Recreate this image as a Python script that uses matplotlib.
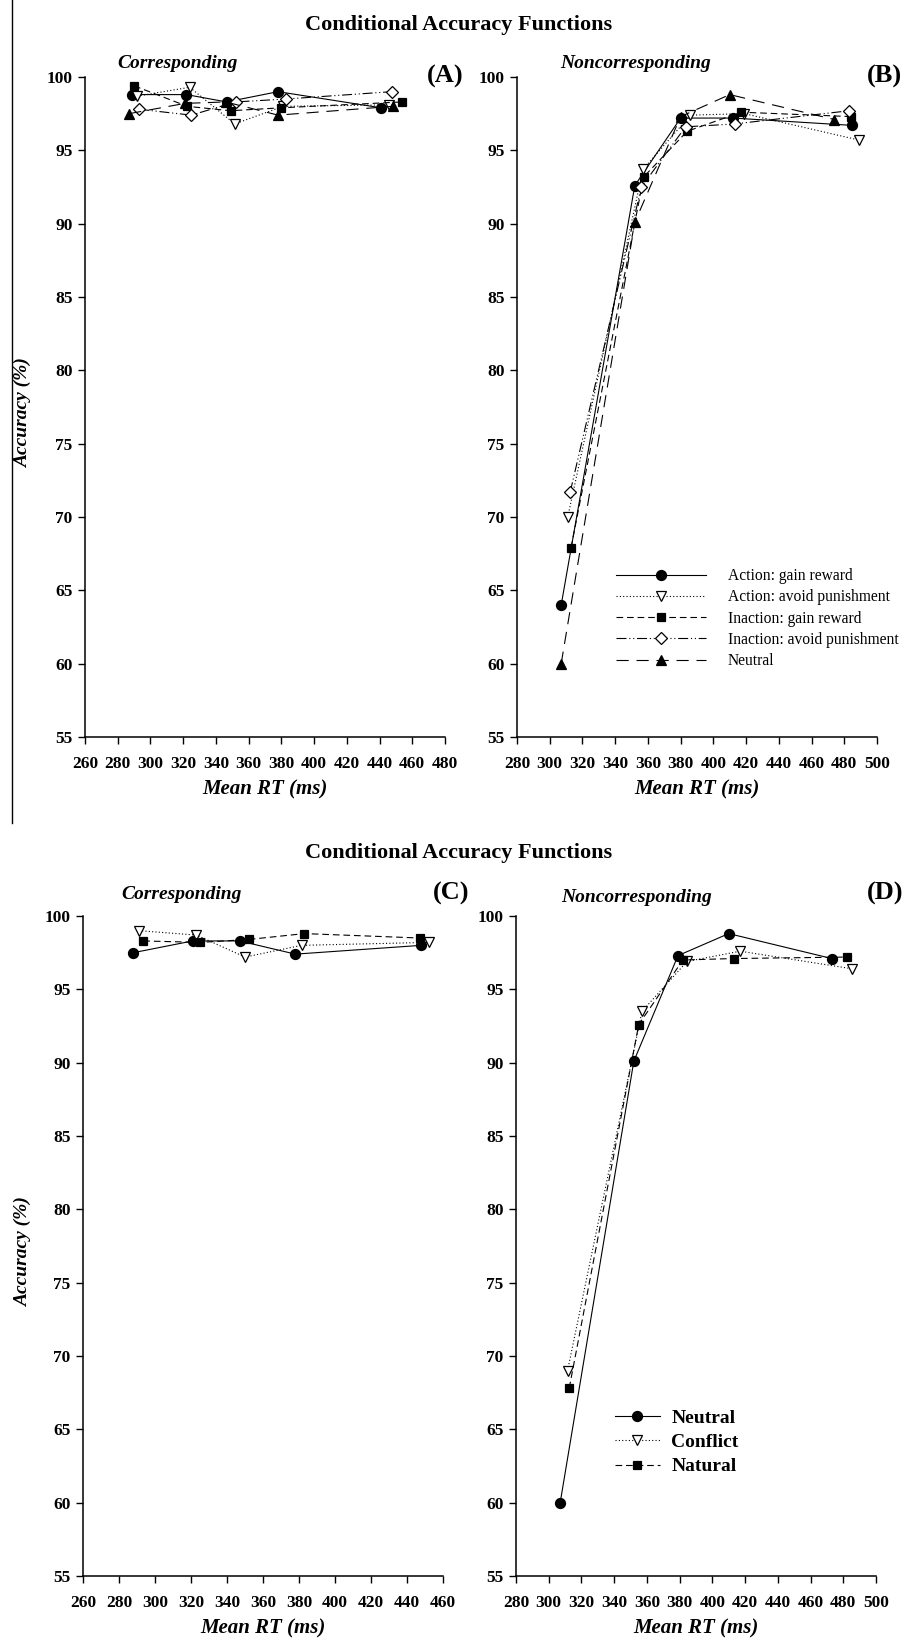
import matplotlib
matplotlib.use("Agg")
import matplotlib.pyplot as plt
from matplotlib.lines import Line2D

plt.rcParams["font.family"] = ["Liberation Serif", "DejaVu Serif"]

# --- Data ---
# Panel A: corresponding trials
a_gain_rt = [288.5, 322, 346.5, 378, 441]
a_gain_acc = [98.8, 98.8, 98.3, 99.0, 97.9]
a_avoid_rt = [292, 324, 351.5, 381, 446]
a_avoid_acc = [98.7, 99.3, 96.8, 98.0, 98.1]
i_gain_rt = [290, 322.5, 349, 380, 454]
i_gain_acc = [99.4, 98.0, 97.7, 97.9, 98.3]
i_avoid_rt = [293, 325, 352, 383, 447.5]
i_avoid_acc = [97.8, 97.4, 98.3, 98.5, 99.0]
a_neutral_rt = [287, 321, 346, 378, 448]
a_neutral_acc = [97.5, 98.2, 98.3, 97.4, 98.0]

# Panel B: noncorresponding trials
b_gain_rt = [307, 352, 380, 412, 485]
b_gain_acc = [64.0, 92.6, 97.2, 97.2, 96.7]
b_avoid_rt = [311, 357, 386, 419, 489]
b_avoid_acc = [70.0, 93.7, 97.4, 97.5, 95.7]
bi_gain_rt = [313, 357.5, 384, 417, 484]
bi_gain_acc = [67.9, 93.2, 96.3, 97.6, 97.3]
bi_avoid_rt = [312.5, 356, 383, 413, 483]
bi_avoid_acc = [71.7, 92.5, 96.6, 96.8, 97.7]
b_neutral_rt = [307, 352, 380, 410, 474]
b_neutral_acc = [60.0, 90.1, 97.3, 98.8, 97.1]

# Panel C: corresponding trials
c_neutral_rt = [288, 321, 347, 378, 448]
c_neutral_acc = [97.5, 98.3, 98.3, 97.4, 98.0]
c_conflict_rt = [291, 323, 350, 381.5, 452]
c_conflict_acc = [99.0, 98.7, 97.2, 98.0, 98.2]
c_natural_rt = [293.5, 325, 352, 383, 447]
c_natural_acc = [98.3, 98.2, 98.4, 98.8, 98.5]

# Panel D: noncorresponding trials
d_neutral_rt = [307, 352, 379, 410, 473]
d_neutral_acc = [60.0, 90.1, 97.3, 98.8, 97.1]
d_conflict_rt = [311.5, 357, 384.5, 417, 485.5]
d_conflict_acc = [69.0, 93.5, 96.9, 97.6, 96.4]
d_natural_rt = [312.5, 355, 382, 413, 482]
d_natural_acc = [67.8, 92.6, 97.0, 97.1, 97.2]

legend_top = ["Action: gain reward", "Action: avoid punishment",
              "Inaction: gain reward", "Inaction: avoid punishment", "Neutral"]
legend_bottom = ["Neutral", "Conflict", "Natural"]

W, H = 916, 1639

# line / marker styles
S_SOLID = dict(ls="-", marker="o", mfc="black", ms=7.2)
S_DOT = dict(ls=(0, (1, 2)), marker="v", mfc="white", ms=7.5)
S_DASH = dict(ls=(0, (6, 3.5)), marker="s", mfc="black", ms=6.3)
S_DDOT = dict(ls=(0, (9, 2.5, 1, 2.5, 1, 2.5)), marker="D", mfc="white", ms=6.5)
S_LONG = dict(ls=(0, (11, 7)), marker="^", mfc="black", ms=7.5)


def draw(ax, x, y, style, label=None):
    ax.plot(x, y, color="black", lw=0.8, mec="black", mew=0.9,
            label=label, clip_on=False, **style)


def style_axes(ax, xmin, xmax):
    ax.set_xlim(xmin, xmax)
    ax.set_ylim(55, 100)
    ax.set_xticks(range(xmin, xmax + 1, 20))
    ax.set_yticks(range(55, 101, 5))
    for s in ["top", "right"]:
        ax.spines[s].set_visible(False)
    for s in ["left", "bottom"]:
        ax.spines[s].set_linewidth(1.1)
    ax.tick_params(direction="out", length=5, width=1.0)
    ax.tick_params(axis="x", pad=9)
    ax.tick_params(axis="y", pad=4)
    for lab in ax.get_xticklabels() + ax.get_yticklabels():
        lab.set_fontsize(12.5)
        lab.set_fontweight("bold")
    ax.set_xlabel("Mean RT (ms)", fontsize=15, fontweight="bold",
                  fontstyle="italic", labelpad=5)


def axes_at(fig, x0, x1, ytop, ybot):
    return fig.add_axes([x0 / W, 1 - ybot / H, (x1 - x0) / W, (ybot - ytop) / H])


fig = plt.figure(figsize=(W / 100, H / 100), dpi=100)

ax_a = axes_at(fig, 85, 445, 77, 737)
ax_b = axes_at(fig, 517, 877, 77, 737)
ax_c = axes_at(fig, 83, 443, 916, 1576)
ax_d = axes_at(fig, 516, 876, 916, 1576)

# panel A
draw(ax_a, a_gain_rt, a_gain_acc, S_SOLID)
draw(ax_a, a_avoid_rt, a_avoid_acc, S_DOT)
draw(ax_a, i_gain_rt, i_gain_acc, S_DASH)
draw(ax_a, i_avoid_rt, i_avoid_acc, S_DDOT)
draw(ax_a, a_neutral_rt, a_neutral_acc, S_LONG)
style_axes(ax_a, 260, 480)

# panel B
draw(ax_b, b_gain_rt, b_gain_acc, S_SOLID, legend_top[0])
draw(ax_b, b_avoid_rt, b_avoid_acc, S_DOT, legend_top[1])
draw(ax_b, bi_gain_rt, bi_gain_acc, S_DASH, legend_top[2])
draw(ax_b, bi_avoid_rt, bi_avoid_acc, S_DDOT, legend_top[3])
draw(ax_b, b_neutral_rt, b_neutral_acc, S_LONG, legend_top[4])
style_axes(ax_b, 280, 500)
ax_b.legend(loc="upper left", bbox_to_anchor=(0.275, 0.256), frameon=False,
            prop=dict(family="Liberation Serif", size=11.2), handlelength=5.8,
            handletextpad=1.4, labelspacing=0.34, borderpad=0, borderaxespad=0)

# panel C
draw(ax_c, c_neutral_rt, c_neutral_acc, S_SOLID)
draw(ax_c, c_conflict_rt, c_conflict_acc, S_DOT)
draw(ax_c, c_natural_rt, c_natural_acc, S_DASH)
style_axes(ax_c, 260, 460)

# panel D
draw(ax_d, d_neutral_rt, d_neutral_acc, S_SOLID, legend_bottom[0])
draw(ax_d, d_conflict_rt, d_conflict_acc, S_DOT, legend_bottom[1])
draw(ax_d, d_natural_rt, d_natural_acc, S_DASH, legend_bottom[2])
style_axes(ax_d, 280, 500)
ax_d.legend(loc="upper left", bbox_to_anchor=(0.275, 0.253), frameon=False,
            prop=dict(family="Liberation Serif", size=14, weight="bold"),
            handlelength=2.3, handletextpad=0.6, labelspacing=0.35,
            borderpad=0, borderaxespad=0)

# titles, panel labels
for y in [25, 853]:
    fig.text(459 / W, 1 - y / H, "Conditional Accuracy Functions", ha="center",
             va="center", fontsize=16, fontweight="bold")

for x, y, txt in [(117, 63, "Corresponding"), (560, 63, "Noncorresponding"),
                  (121, 895, "Corresponding"), (561, 897, "Noncorresponding")]:
    fig.text(x / W, 1 - y / H, txt, ha="left", va="center", fontsize=14,
             fontweight="bold", fontstyle="italic")

for x, y, txt in [(445, 76, "(A)"), (884, 76, "(B)"), (451, 893, "(C)"), (885, 893, "(D)")]:
    fig.text(x / W, 1 - y / H, txt, ha="center", va="center", fontsize=19,
             fontweight="bold")

for y in [413, 1252]:
    fig.text(23 / W, 1 - y / H, "Accuracy (%)", rotation=90, ha="center",
             va="center", fontsize=14, fontweight="bold", fontstyle="italic")

# separator line at the left edge of the upper figure
fig.add_artist(Line2D([12 / W, 12 / W], [1, 1 - 823 / H], transform=fig.transFigure,
                      color="black", lw=1.0))

fig.savefig("out.png", dpi=100)
